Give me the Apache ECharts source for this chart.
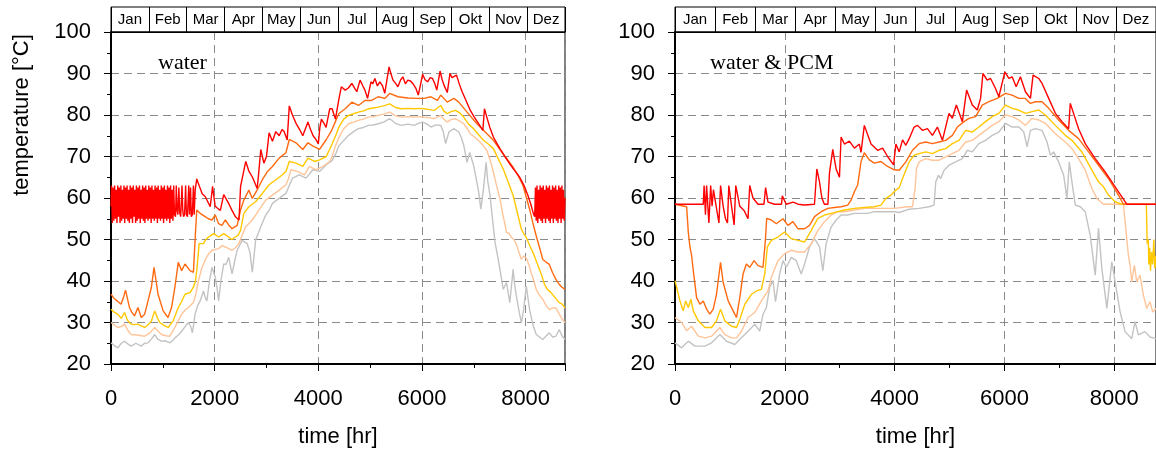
<!DOCTYPE html>
<html>
<head>
<meta charset="utf-8">
<script src="https://cdn.jsdelivr.net/npm/echarts@6/dist/echarts.min.js"></script>
<style>
html,body{margin:0;padding:0;background:#fff;}
#chart{width:1156px;height:457px;}
</style>
</head>
<body>
<div id="chart"></div>
<script>
// ---------- data ----------
var months = ['Jan','Feb','Mar','Apr','May','Jun','Jul','Aug','Sep','Okt','Nov','Dez'];
var panelTitles = ['water', 'water & PCM'];
var yTitle = 'temperature [°C]';
var xTitle = 'time [hr]';

// left panel: water  ([hour, °C])
var wRed = [[0,58],[10,63],[25,54],[40,62.5],[55,54.5],[70,63],[85,55],[100,62],[115,54],[130,63],[145,55.5],[160,62.5],[175,54],[190,63],[205,54.5],[220,62],[235,55],[250,63],[265,54],[280,62.5],[295,55],[310,63],[325,54.5],[340,62],[355,54],[370,63],[385,55],[400,62.5],[415,54],[430,63],[445,55.5],[460,62],[475,54],[490,63],[505,54.5],[520,62.5],[535,55],[550,63],[565,54],[580,62],[595,55],[610,63],[625,54.5],[640,62.5],[655,54],[670,63],[685,55],[700,62],[715,54.5],[730,63],[745,55],[760,62.5],[775,54],[790,63],[805,55],[820,62],[835,54.5],[850,63],[865,55],[880,62.5],[895,54],[910,63],[925,55],[940,62],[955,54.5],[970,63],[985,55],[1000,62.5],[1015,54],[1030,63],[1045,55],[1060,62],[1075,54.5],[1090,63],[1105,55],[1120,62.5],[1135,54],[1150,63],[1165,55],[1180,62],[1195,54.5],[1210,63],[1225,56],[1245,55.5],[1260,63],[1275,57],[1290,56],[1310,62.5],[1325,56.5],[1345,55.5],[1370,63],[1385,57],[1400,55.5],[1420,56],[1440,63],[1455,56],[1475,55.5],[1500,63],[1515,56],[1535,62.5],[1550,55.5],[1570,56],[1590,63],[1605,56],[1625,62],[1655,64.6],[1700,63],[1760,61],[1820,60.3],[1915,57.9],[1960,62.8],[2010,58],[2110,57],[2175,60.8],[2270,58.7],[2335,57],[2400,55.5],[2470,54.7],[2500,62.8],[2600,68.8],[2660,66.5],[2730,65],[2820,62.3],[2850,66],[2890,71.7],[2950,68.4],[3000,70],[3050,75.7],[3115,73.7],[3180,76],[3245,75],[3300,76.5],[3340,76],[3400,74],[3440,82.2],[3500,80],[3570,78],[3640,76.5],[3700,75],[3760,77],[3800,78.3],[3850,76.5],[3900,75],[3960,74],[4000,73],[4030,77],[4060,79],[4110,78],[4150,77],[4220,81.5],[4266,81.5],[4330,79],[4400,84],[4444,86.8],[4520,86],[4580,86.5],[4647,87.6],[4700,86.5],[4743,85.6],[4806,88.4],[4860,87],[4900,86],[4950,84],[5016,88],[5050,87.5],[5092,88.8],[5140,87],[5187,88],[5240,87],[5282,85.2],[5365,91.6],[5400,90],[5441,88.4],[5500,87.5],[5536,86.8],[5590,88.5],[5632,89.2],[5680,87.5],[5727,88.4],[5780,88.2],[5822,87.6],[5880,86.5],[5930,84.8],[6013,89.8],[6060,88.5],[6108,88],[6160,89],[6203,88.8],[6250,87.5],[6286,86],[6349,90.6],[6390,88.5],[6425,87.2],[6489,85.4],[6540,90],[6580,89],[6616,89.2],[6667,89.6],[6720,87.5],[6775,85.6],[6850,83.5],[6933,81.1],[7010,79.5],[7092,77.9],[7175,76.3],[7206,81.5],[7251,79.5],[7310,77],[7378,74.7],[7440,73.3],[7505,71.9],[7600,70],[7695,68.2],[7790,66.6],[7886,65],[7970,63],[8045,60.6],[8100,58.5],[8153,56.1],[8175,55.5],[8190,62.5],[8205,54.5],[8220,63],[8235,54],[8250,62],[8265,55],[8280,63],[8295,54.5],[8310,62.5],[8325,54],[8340,63],[8355,55],[8370,62],[8385,54],[8400,63],[8415,55],[8430,62.5],[8445,54.5],[8460,63],[8475,54],[8490,62],[8505,55],[8520,63],[8535,54],[8550,62.5],[8565,55],[8580,63],[8595,54.5],[8610,62],[8625,54],[8640,63],[8655,55],[8670,62.5],[8685,54],[8700,63],[8715,55],[8730,62],[8745,54.5],[8760,60]];
var wOrange = [[0,36.8],[60,35.8],[120,35.2],[195,34.4],[240,36],[280,37.8],[357,33.6],[400,32.5],[454,31.6],[520,33.6],[584,31.2],[650,32],[714,35.2],[780,38.5],[830,43.3],[870,40],[908,36.8],[1006,32.8],[1100,31.2],[1168,33.6],[1233,38.5],[1298,44.5],[1363,42.5],[1428,44.1],[1525,42.5],[1590,42.1],[1622,49.8],[1655,57.1],[1720,56.3],[1817,55.5],[1880,55],[1947,54.7],[2012,55.9],[2077,53.8],[2140,53.4],[2206,54.7],[2270,53.5],[2336,52.6],[2434,53.4],[2500,57.1],[2563,59.5],[2660,61.9],[2726,59.9],[2823,62],[2920,64.4],[3020,66.4],[3115,67.6],[3245,69.6],[3375,70.9],[3440,74.1],[3570,73.3],[3700,71.7],[3800,73.3],[3900,72.5],[4024,71.7],[4154,74.1],[4250,76.1],[4350,79],[4393,80.3],[4520,81.5],[4647,83.1],[4774,82.3],[4900,83.5],[5028,83.5],[5155,84.4],[5282,84],[5378,85.2],[5536,84.4],[5727,84.1],[5917,84],[6044,84],[6171,84.4],[6298,83.5],[6362,84.8],[6489,83.1],[6616,84],[6711,83.1],[6870,80.7],[7060,77.9],[7187,76.3],[7378,73.9],[7568,70.6],[7759,67.4],[7850,65.5],[7950,63],[8077,57.3],[8140,54],[8204,50.9],[8270,48],[8331,45.2],[8400,44.5],[8458,44],[8520,42],[8585,40.4],[8648,39.2],[8700,38.5],[8760,38]];
var wYellow = [[0,33.2],[60,32.5],[130,32],[200,31],[227,30.8],[260,32.4],[320,30.5],[390,29.6],[450,29.5],[520,29.6],[580,29.2],[650,28.8],[720,29.5],[780,30.4],[844,32.8],[900,31],[941,30],[1020,29.3],[1103,28.8],[1200,30.4],[1298,33.6],[1360,35],[1428,36.8],[1525,37.2],[1590,38.5],[1630,40],[1655,42.5],[1680,46],[1700,49],[1785,49],[1830,50],[1882,50.6],[1930,51],[1980,51.4],[2077,50.6],[2175,51.4],[2271,50.6],[2330,50],[2400,50.6],[2450,51],[2500,52.2],[2563,56.3],[2660,57.9],[2790,59.1],[2920,61.1],[3050,63.2],[3180,64.4],[3310,65.6],[3380,66.5],[3440,68.8],[3570,68.4],[3700,67.6],[3800,69.6],[3930,68.8],[4024,69.2],[4154,70],[4266,73],[4350,75.5],[4393,77],[4490,79],[4584,79.9],[4680,80.3],[4774,80.7],[4870,81],[4964,81.5],[5060,81.7],[5155,81.9],[5260,82.2],[5378,82.7],[5490,81.8],[5600,81.5],[5730,81.6],[5854,81.5],[5950,81.6],[6044,81.5],[6150,81.3],[6235,81.1],[6362,82.3],[6420,81],[6489,80.3],[6560,80.8],[6648,81.1],[6730,80.5],[6806,79.5],[6900,77.8],[6997,76.7],[7090,75.3],[7187,73.9],[7280,73],[7378,71.9],[7470,69.5],[7568,67],[7660,64],[7759,60.6],[7840,56.5],[7918,52.5],[7960,51.5],[8013,50.5],[8080,48.5],[8140,46.9],[8200,45],[8267,42.8],[8320,41],[8363,39.2],[8420,38],[8490,37.2],[8570,36],[8648,34.8],[8700,34.5],[8760,33.5]];
var wPeach = [[0,30],[130,28.8],[200,29],[260,29.6],[330,28],[390,27.1],[500,27],[650,26.7],[750,27.5],[844,28.8],[900,28],[974,27.1],[1060,26.8],[1136,26.7],[1233,28.8],[1300,30.5],[1363,32],[1430,33],[1493,33.6],[1590,34.8],[1640,37],[1688,40.1],[1750,43],[1817,45],[1880,46.5],[1947,47.4],[2077,47.8],[2140,48.5],[2206,48.2],[2336,47.4],[2400,48],[2466,49],[2530,51],[2596,53],[2726,54.7],[2855,57.1],[2985,59.5],[3115,60.7],[3245,61.9],[3375,63.2],[3420,64.5],[3472,66.8],[3600,66.4],[3732,65.6],[3830,67.6],[3960,66.8],[4090,67.6],[4220,68.8],[4266,70],[4330,72.5],[4393,74.5],[4480,76.5],[4584,77.9],[4680,78.3],[4774,78.7],[4870,79],[4964,79.5],[5060,79.6],[5155,79.9],[5260,80.2],[5378,80.7],[5490,79.8],[5600,79.5],[5730,79.6],[5854,79.5],[5950,79.6],[6044,79.5],[6150,79.3],[6235,79.1],[6362,79.9],[6420,79],[6489,78.3],[6560,78.9],[6648,79.1],[6730,78.5],[6806,77.9],[6870,76.8],[6933,75.5],[7030,74.5],[7123,73.5],[7190,72.5],[7251,71.5],[7320,69],[7378,66.2],[7440,63],[7505,59.8],[7570,55.5],[7632,51.7],[7680,51.5],[7727,50.5],[7775,50],[7822,48.9],[7870,47],[7918,45.2],[7960,46],[8013,45.6],[8060,44],[8108,42],[8160,40],[8204,38],[8270,36.5],[8331,35.6],[8400,34],[8458,33.1],[8520,33.5],[8585,33.5],[8650,32],[8712,30.7],[8760,30]];
var wGray = [[0,25.1],[60,24.5],[130,23.9],[200,25],[260,25.5],[330,24.8],[390,24.3],[480,25],[584,24.3],[650,25],[714,25.1],[780,26],[844,27.1],[900,26],[974,25.5],[1050,25.6],[1136,25.1],[1200,25.8],[1233,26.3],[1300,27],[1363,27.9],[1430,29],[1493,30],[1540,29],[1570,27.5],[1600,30],[1622,32],[1670,34],[1720,35.2],[1785,37.6],[1820,36],[1850,35.2],[1900,40],[1947,43.3],[2012,40.9],[2050,38],[2077,35.2],[2120,40],[2175,44.1],[2220,44],[2271,45.7],[2336,41.7],[2390,45],[2434,47.4],[2530,49.8],[2628,49],[2680,47],[2726,42.1],[2760,46],[2790,49.8],[2888,53],[2985,55.9],[3050,57],[3115,58.7],[3245,59.9],[3375,61.1],[3440,63],[3504,64.8],[3634,65.6],[3764,64.8],[3894,66.8],[4024,66.4],[4154,68],[4266,69],[4350,71],[4393,72.5],[4500,74],[4584,75.1],[4680,76],[4774,76.7],[4870,77],[4964,77.5],[5060,77.6],[5155,77.9],[5260,78.3],[5378,79.1],[5490,78],[5600,77.5],[5730,77.8],[5854,77.5],[5930,78],[6013,78.3],[6100,77.8],[6171,77.1],[6270,77.6],[6362,77.5],[6410,76],[6457,73.1],[6520,75.9],[6616,76.7],[6711,75.9],[6760,74.5],[6806,72.7],[6840,70.5],[6870,68.6],[6921,71],[6997,67.8],[7060,63.8],[7100,61],[7136,57.3],[7187,62.2],[7238,68.6],[7270,64],[7314,60.6],[7360,55],[7410,49.3],[7460,46],[7505,42.8],[7568,38],[7632,39.6],[7695,34.8],[7759,42.8],[7790,39],[7822,36.4],[7870,33],[7918,29.9],[7960,33],[8013,38.8],[8077,33.1],[8140,29.5],[8204,27.1],[8270,26.5],[8331,25.9],[8400,26.8],[8458,27.5],[8520,26.5],[8585,26.7],[8648,28.3],[8700,26.8],[8760,25.9]];

// right panel: water & PCM ([hour, °C])
var pRed = [[0,58.5],[515,58.5],[530,63],[555,56],[575,63],[617,54],[650,63],[675,58],[700,62],[787,55],[800,54],[830,63],[877,58],[920,55],[956,54],[980,63],[1040,57],[1077,53.5],[1107,63],[1180,58],[1258,57],[1330,55],[1361,63],[1420,60],[1512,58.5],[1620,58.5],[1650,62.5],[1694,59],[1815,58.5],[1940,58.5],[1954,60.5],[2026,58.5],[2150,59],[2240,58.5],[2360,58.3],[2540,58.5],[2583,67],[2630,64],[2675,60],[2720,58.5],[2785,58.5],[2813,66],[2873,71.7],[2934,67],[2995,65],[3025,74.7],[3085,73],[3176,73.7],[3267,72],[3357,73],[3388,71],[3448,77.5],[3570,73],[3690,71.5],[3781,72],[3872,70],[3981,68],[4023,73],[4083,71.1],[4144,74],[4204,72.7],[4265,74.3],[4355,77.1],[4416,77.5],[4506,76.3],[4597,76.7],[4688,75.1],[4779,77.1],[4870,73.9],[4990,80.4],[5051,79.2],[5124,82.4],[5233,78.4],[5311,86],[5414,82.4],[5505,81.2],[5565,84],[5608,90],[5686,88.4],[5747,88.8],[5837,86.4],[5898,84.4],[6007,90.4],[6080,88.8],[6140,89.2],[6213,86.8],[6291,89.2],[6382,85.6],[6473,84],[6521,89.6],[6624,88.8],[6685,87.6],[6806,84],[6927,80.4],[7048,78.4],[7169,76.7],[7199,82.8],[7229,81.6],[7350,76.7],[7471,73.1],[7653,69.5],[7834,66.3],[8016,62.7],[8227,58.5],[8760,58.5]];
var pOrange = [[0,58.5],[212,57.9],[242,51.8],[272,48.2],[302,46.2],[333,42.5],[393,36],[454,34.4],[515,35.2],[575,33.2],[635,32],[696,33.2],[756,36.8],[829,44.5],[877,39.7],[968,35.2],[1059,32.8],[1120,31.2],[1180,36],[1240,41.7],[1300,44.1],[1361,43.3],[1440,44.9],[1512,43.7],[1603,43.3],[1646,49.8],[1670,55.1],[1754,54.7],[1845,53.8],[1966,55],[2057,53.4],[2148,54.3],[2238,52.6],[2360,52.6],[2450,53.4],[2541,55.5],[2662,56.7],[2783,57.5],[2904,57.7],[3025,57.9],[3146,58.3],[3207,59.5],[3267,61.5],[3328,63.2],[3388,68.8],[3448,70.9],[3539,69.2],[3630,68.4],[3751,68.8],[3872,67.6],[3993,66.8],[4083,66.7],[4204,68.7],[4325,71.5],[4446,73.1],[4567,73.5],[4688,73.1],[4809,73.5],[4930,73.9],[5051,75.1],[5142,77.1],[5263,78.4],[5354,79.2],[5475,79.6],[5596,82.4],[5717,83.2],[5868,84],[6019,85.2],[6140,84.8],[6261,84],[6382,84],[6473,82.8],[6564,83.2],[6685,83.2],[6806,81.6],[6987,78.8],[7169,76.3],[7350,74.3],[7532,71.1],[7713,67.9],[7894,64.7],[8076,60.7],[8167,58.5],[8760,58.5]];
var pYellow = [[0,40.1],[30,38.5],[90,35.2],[150,32.8],[194,35.2],[242,33.6],[290,35.6],[333,32.8],[424,30.4],[545,28.8],[666,28.8],[756,30.4],[829,33.2],[908,30.4],[1029,29.1],[1120,28.8],[1180,30.8],[1271,34.4],[1392,36.8],[1483,37.6],[1573,38],[1634,41.7],[1682,48.2],[1754,49.8],[1875,50.6],[1996,51.8],[2117,50.2],[2238,49.8],[2360,49.4],[2481,52.2],[2602,55.1],[2723,55.9],[2843,56.3],[2964,56.7],[3085,57.1],[3267,57.5],[3448,57.7],[3630,57.9],[3751,58.3],[3842,59.9],[3933,60.7],[4023,61.9],[4083,62.5],[4144,64.7],[4204,66.7],[4265,68.7],[4355,70.3],[4446,70.7],[4567,71.1],[4688,70.7],[4809,71.5],[4930,71.9],[5051,73.1],[5172,73.9],[5293,76.3],[5414,75.9],[5535,77.1],[5656,78.4],[5777,79.6],[5898,80.4],[6019,82.4],[6140,81.6],[6261,81.2],[6382,80.4],[6503,80.8],[6624,81.2],[6745,80],[6927,77.5],[7108,75.1],[7229,73.9],[7411,71.1],[7592,66.7],[7713,63.9],[7804,62.7],[7894,60.7],[8015,59.1],[8136,58.5],[8584,58.5],[8600,49],[8620,50],[8630,44],[8645,48],[8660,42.5],[8680,47],[8700,44],[8720,50],[8740,43],[8760,46]];
var pPeach = [[0,31.2],[121,30],[212,28],[302,29.1],[424,26.7],[545,26.3],[666,26.7],[817,28.8],[908,27.1],[1029,26.3],[1120,26.3],[1210,27.9],[1331,31.2],[1452,32.4],[1573,35.2],[1694,37.6],[1754,40.9],[1875,44.9],[1996,46.6],[2117,47.4],[2238,47],[2360,47],[2481,49],[2602,52.2],[2723,54.3],[2843,55.9],[2964,56.7],[3085,56.7],[3267,57.1],[3448,57.5],[3630,57.5],[3812,57.5],[3993,57.5],[4235,57.9],[4325,57.9],[4373,62.3],[4398,67.1],[4446,68.7],[4567,69.5],[4688,69.1],[4809,69.1],[4930,69.9],[5051,70.7],[5172,71.5],[5293,73.5],[5414,73.9],[5535,75.1],[5656,76.3],[5777,77.5],[5898,78.4],[6019,80],[6140,79.6],[6261,78.8],[6382,77.5],[6503,79.2],[6624,78.8],[6745,78],[6927,75.5],[7108,73.5],[7229,71.9],[7350,69.5],[7471,66.7],[7592,62.3],[7683,59.9],[7804,58.5],[8167,58.5],[8197,54.3],[8257,46.3],[8290,43.5],[8318,39.8],[8366,43.8],[8409,39.8],[8469,41.4],[8530,36.6],[8590,33.4],[8650,35],[8700,32.5],[8760,33.4]];
var pGray = [[0,25.1],[121,23.9],[242,25.5],[363,24.3],[545,24.3],[666,25.1],[817,27.1],[938,25.5],[1089,24.7],[1210,26.3],[1331,27.9],[1452,29.6],[1543,27.9],[1603,32],[1664,33.6],[1724,38.5],[1785,40.1],[1830,35],[1906,41.7],[1966,44.9],[2027,43.3],[2117,45.7],[2208,44.9],[2299,41.7],[2360,44.1],[2450,48.2],[2541,50.2],[2632,48.2],[2692,42.5],[2753,49],[2843,53],[2934,54.7],[3025,55.9],[3146,55.9],[3267,56.3],[3388,56.3],[3509,56.3],[3630,56.7],[3812,56.7],[3993,56.7],[4083,56.5],[4265,57.3],[4446,57.5],[4627,57.9],[4718,58.3],[4749,63.9],[4797,65.5],[4839,64.7],[4900,66.7],[4990,67.9],[5112,68.7],[5233,69.5],[5323,71.5],[5414,71.1],[5535,73.1],[5656,73.9],[5777,75.1],[5898,75.9],[6019,78],[6140,77.1],[6261,77.1],[6352,75.9],[6412,72.3],[6473,76.3],[6564,76.7],[6685,76.3],[6776,73.5],[6836,70.3],[6897,71.1],[6987,68.7],[7078,65.5],[7138,59.9],[7181,68.7],[7229,63.9],[7290,58.3],[7381,57.9],[7471,56.7],[7562,51],[7653,41.4],[7713,52.7],[7774,43],[7865,33.4],[7955,44.6],[8016,39.8],[8106,32.6],[8197,27.8],[8318,26.1],[8378,30.2],[8439,27],[8560,27.8],[8650,26.5],[8760,26.1]];

// ---------- chart ----------
var SANS = 'Liberation Sans, Arial, sans-serif';
var SERIF = 'Liberation Serif, Times New Roman, serif';
var colors = { red:'#ff0000', orange:'#ff6a10', yellow:'#ffc800', peach:'#ffc59a', gray:'#c3c3c3' };

var L = { left:111, width:454 };
var R = { left:675, width:481 };

function stripX(gi){
  return { gridIndex: gi, type:'category', data: months, boundaryGap:true,
    axisLine:{show:true, lineStyle:{color:'#000', width:1}},
    axisTick:{show:false},
    splitLine:{show:true, interval:0, lineStyle:{color:'#000', width:1}},
    axisLabel:{inside:true, interval:0, margin:5, color:'#000', fontSize:15, fontFamily:SANS} };
}
function stripY(gi){ return { gridIndex: gi, type:'value', show:false, min:0, max:1 }; }
function mainX(gi){
  return { gridIndex: gi, type:'value', min:0, max:8760, interval:2000,
    name: xTitle, nameLocation:'middle', nameGap:62,
    nameTextStyle:{color:'#000', fontSize:22, fontFamily:SANS},
    axisLine:{show:true, onZero:false, lineStyle:{color:'#000', width:2}},
    axisTick:{show:true, length:7, lineStyle:{color:'#000', width:1}},
    minorTick:{show:true, splitNumber:2, length:4, lineStyle:{color:'#000', width:1}},
    axisLabel:{color:'#000', fontSize:22, fontFamily:SANS, margin:24, showMaxLabel:false,
      formatter:function(v){ return String(v); }},
    splitLine:{show:true, lineStyle:{color:'#8a8a8a', width:1, type:[8,5]}} };
}
function mainY(gi){
  return { gridIndex: gi, type:'value', min:20, max:100, interval:10,
    axisLine:{show:true, onZero:false, lineStyle:{color:'#000', width:2}},
    axisTick:{show:true, length:7, lineStyle:{color:'#000', width:1}},
    minorTick:{show:true, splitNumber:2, length:4, lineStyle:{color:'#000', width:1}},
    axisLabel:{color:'#000', fontSize:22, fontFamily:SANS, margin:20,
      formatter:function(v){ return String(v); }},
    splitLine:{show:true, lineStyle:{color:'#8a8a8a', width:1, type:[8,5]}} };
}
function line(data, color, ax, z){
  return { type:'line', xAxisIndex:ax, yAxisIndex:ax, data:data, showSymbol:false, symbol:'none',
    lineStyle:{color:color, width:1.4}, itemStyle:{color:color}, z:z, animation:false, silent:true };
}

var option = {
  animation:false,
  backgroundColor:'#fff',
  title:[
    {text:panelTitles[0], left:158, top:52, padding:0, textStyle:{fontFamily:SERIF, fontSize:22, fontWeight:'normal', color:'#000'}},
    {text:panelTitles[1], left:710, top:52, padding:0, textStyle:{fontFamily:SERIF, fontSize:22, fontWeight:'normal', color:'#000'}}
  ],
  grid:[
    {left:L.left, width:L.width, top:7, height:25, show:true, borderColor:'#000', borderWidth:1, backgroundColor:'#fff'},
    {left:L.left, width:L.width, top:32, height:332, show:true, borderColor:'#000', borderWidth:1},
    {left:R.left, width:R.width, top:7, height:25, show:true, borderColor:'#000', borderWidth:1, backgroundColor:'#fff'},
    {left:R.left, width:R.width, top:32, height:332, show:true, borderColor:'#000', borderWidth:1}
  ],
  xAxis:[ stripX(0), mainX(1), stripX(2), mainX(3) ],
  yAxis:[ stripY(0), mainY(1), stripY(2), mainY(3) ],
  graphic:[
    {type:'text', x:22, y:115, rotation:Math.PI/2,
     style:{text:yTitle, fill:'#000', font:'22px ' + SANS, align:'center', verticalAlign:'middle'}}
  ],
  series:[
    line(wGray, colors.gray, 1, 1), line(wPeach, colors.peach, 1, 2), line(wYellow, colors.yellow, 1, 3),
    line(wOrange, colors.orange, 1, 4), line(wRed, colors.red, 1, 5),
    line(pGray, colors.gray, 3, 1), line(pPeach, colors.peach, 3, 2), line(pYellow, colors.yellow, 3, 3),
    line(pOrange, colors.orange, 3, 4), line(pRed, colors.red, 3, 5)
  ]
};

var chart = echarts.init(document.getElementById('chart'), null, {renderer:'canvas'});
chart.setOption(option);
</script>
</body>
</html>
